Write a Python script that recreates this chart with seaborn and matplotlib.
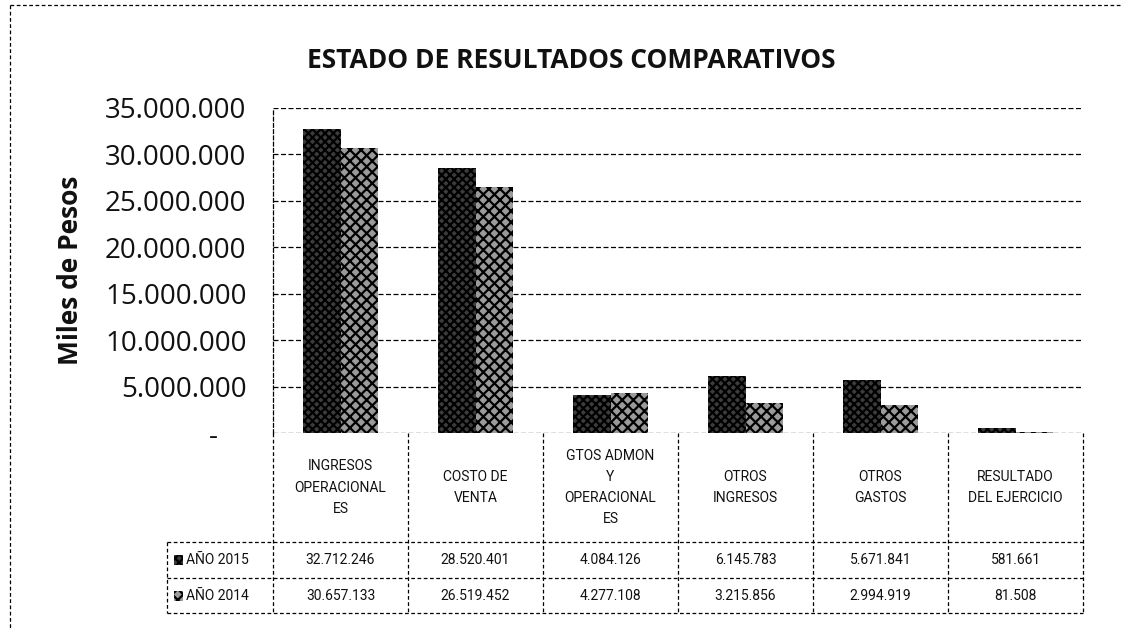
import matplotlib

matplotlib.use("Agg")
import matplotlib.pyplot as plt
import pandas as pd
import seaborn as sns
from matplotlib.lines import Line2D
from matplotlib.patches import Rectangle

CATEGORIES = [
    "INGRESOS\nOPERACIONAL\nES",
    "COSTO DE\nVENTA",
    "GTOS ADMON\nY\nOPERACIONAL\nES",
    "OTROS\nINGRESOS",
    "OTROS\nGASTOS",
    "RESULTADO\nDEL EJERCICIO",
]
YEARS = ["AÑO 2015", "AÑO 2014"]
VALUES_2015 = [32712246, 28520401, 4084126, 6145783, 5671841, 581661]
VALUES_2014 = [30657133, 26519452, 4277108, 3215856, 2994919, 81508]
Y_TICKS = [0, 5000000, 10000000, 15000000, 20000000, 25000000, 30000000, 35000000]
Y_TICK_LABELS = ["-    ", "5.000.000", "10.000.000", "15.000.000", "20.000.000",
                 "25.000.000", "30.000.000", "35.000.000"]

TITLE = "ESTADO DE RESULTADOS COMPARATIVOS"
Y_LABEL = "Miles de Pesos"

FACES = {"AÑO 2015": "#3c3c3c", "AÑO 2014": "#9a9a9a"}
HATCHES = {"AÑO 2015": "xxxx", "AÑO 2014": "xxx"}
TABLE_FONT = ["Roboto", "DejaVu Sans"]
DASH = (0, (3, 2))

W, H = 1123, 630
# table geometry in pixels (matches the plot columns)
PLOT_LEFT, PLOT_RIGHT = 273, 1083
LABEL_LEFT = 167
ROW_EDGES = [433, 542, 578, 613]


def fx(px: float) -> float:
    return px / W


def fy(py: float) -> float:
    return 1 - py / H


def fmt(v: int) -> str:
    return f"{v:,}".replace(",", ".")


def build_frame() -> pd.DataFrame:
    rows = []
    for year, values in zip(YEARS, [VALUES_2015, VALUES_2014]):
        for cat, val in zip(CATEGORIES, values):
            rows.append({"categoria": cat, "anio": year, "valor": val})
    return pd.DataFrame(rows)


def dashed(fig, xs, ys) -> None:
    fig.add_artist(Line2D([fx(x) for x in xs], [fy(y) for y in ys],
                          transform=fig.transFigure, color="black", lw=0.9, ls=DASH))


def draw_table(fig) -> None:
    n = len(CATEGORIES)
    col_w = (PLOT_RIGHT - PLOT_LEFT) / n
    top, head_bot, r1_bot, r2_bot = ROW_EDGES

    for y in [head_bot, r1_bot, r2_bot]:
        dashed(fig, [LABEL_LEFT, PLOT_RIGHT], [y, y])
    dashed(fig, [LABEL_LEFT, LABEL_LEFT], [head_bot, r2_bot])
    for i in range(n + 1):
        x = PLOT_LEFT + i * col_w
        dashed(fig, [x, x], [top, r2_bot])

    rows = [[fmt(v) for v in VALUES_2015], [fmt(v) for v in VALUES_2014]]
    for i, cat in enumerate(CATEGORIES):
        xc = PLOT_LEFT + (i + 0.5) * col_w
        fig.text(fx(xc), fy((top + head_bot) / 2), cat, ha="center", va="center",
                 fontsize=10, family=TABLE_FONT, linespacing=1.65, color="#111111")
        for vals, (y0, y1) in zip(rows, [(head_bot, r1_bot), (r1_bot, r2_bot)]):
            fig.text(fx(xc), fy((y0 + y1) / 2), vals[i], ha="center", va="center",
                     fontsize=10, family=TABLE_FONT, color="#111111")

    for year, (y0, y1) in zip(YEARS, [(head_bot, r1_bot), (r1_bot, r2_bot)]):
        yc = (y0 + y1) / 2
        fig.patches.append(Rectangle((fx(174), fy(yc + 5)), 9 / W, 10 / H,
                                     transform=fig.transFigure, facecolor=FACES[year],
                                     hatch=HATCHES[year], edgecolor="black", lw=0))
        fig.text(fx(186), fy(yc), year, ha="left", va="center", fontsize=10,
                 family=TABLE_FONT, color="#111111")


def main() -> None:
    sns.set_theme(style="white")
    plt.rcParams["font.family"] = ["Open Sans", "DejaVu Sans"]
    plt.rcParams["hatch.linewidth"] = 1.6
    plt.rcParams["hatch.color"] = "black"

    df = build_frame()
    fig = plt.figure(figsize=(W / 100, H / 100), dpi=100)
    fig.patch.set_facecolor("white")
    ax = fig.add_axes([fx(PLOT_LEFT), fy(ROW_EDGES[0]), (PLOT_RIGHT - PLOT_LEFT) / W,
                       (ROW_EDGES[0] - 108) / H])

    sns.barplot(data=df, x="categoria", y="valor", hue="anio", hue_order=YEARS,
                order=CATEGORIES, palette=FACES, width=0.555, gap=0,
                saturation=1, legend=False, ax=ax)
    for container, year in zip(ax.containers, YEARS):
        for bar in container:
            bar.set_hatch(HATCHES[year])
            bar.set_edgecolor("black")
            bar.set_linewidth(0)

    ax.set_ylim(0, 35000000)
    ax.set_xlim(-0.5, len(CATEGORIES) - 0.5)
    ax.set_yticks(Y_TICKS)
    ax.set_yticklabels(Y_TICK_LABELS, fontsize=20, color="#111111")
    ax.tick_params(axis="y", length=0, pad=19)
    ax.set_xticks([])
    ax.set_xlabel("")
    ax.set_ylabel("")
    for t in Y_TICKS:
        ax.axhline(t, color="black", lw=0.9, ls=(0, (4, 2)), zorder=0)
    for side in ["top", "right", "bottom"]:
        ax.spines[side].set_visible(False)
    ax.spines["left"].set_linestyle(DASH)
    ax.spines["left"].set_linewidth(0.9)
    ax.spines["left"].set_color("black")

    fig.text(fx(70), fy(270), Y_LABEL, rotation=90, ha="center", va="center",
             fontsize=19, fontweight="bold", color="#111111")
    fig.text(fx(571), fy(60), TITLE, ha="center", va="center",
             fontsize=19, fontweight="bold", color="#111111")

    draw_table(fig)

    # scanned frame border
    dashed(fig, [10, 10], [5, H])
    dashed(fig, [10, W], [5, 5])

    fig.savefig("out.png", dpi=100)
    plt.close(fig)


if __name__ == "__main__":
    main()
